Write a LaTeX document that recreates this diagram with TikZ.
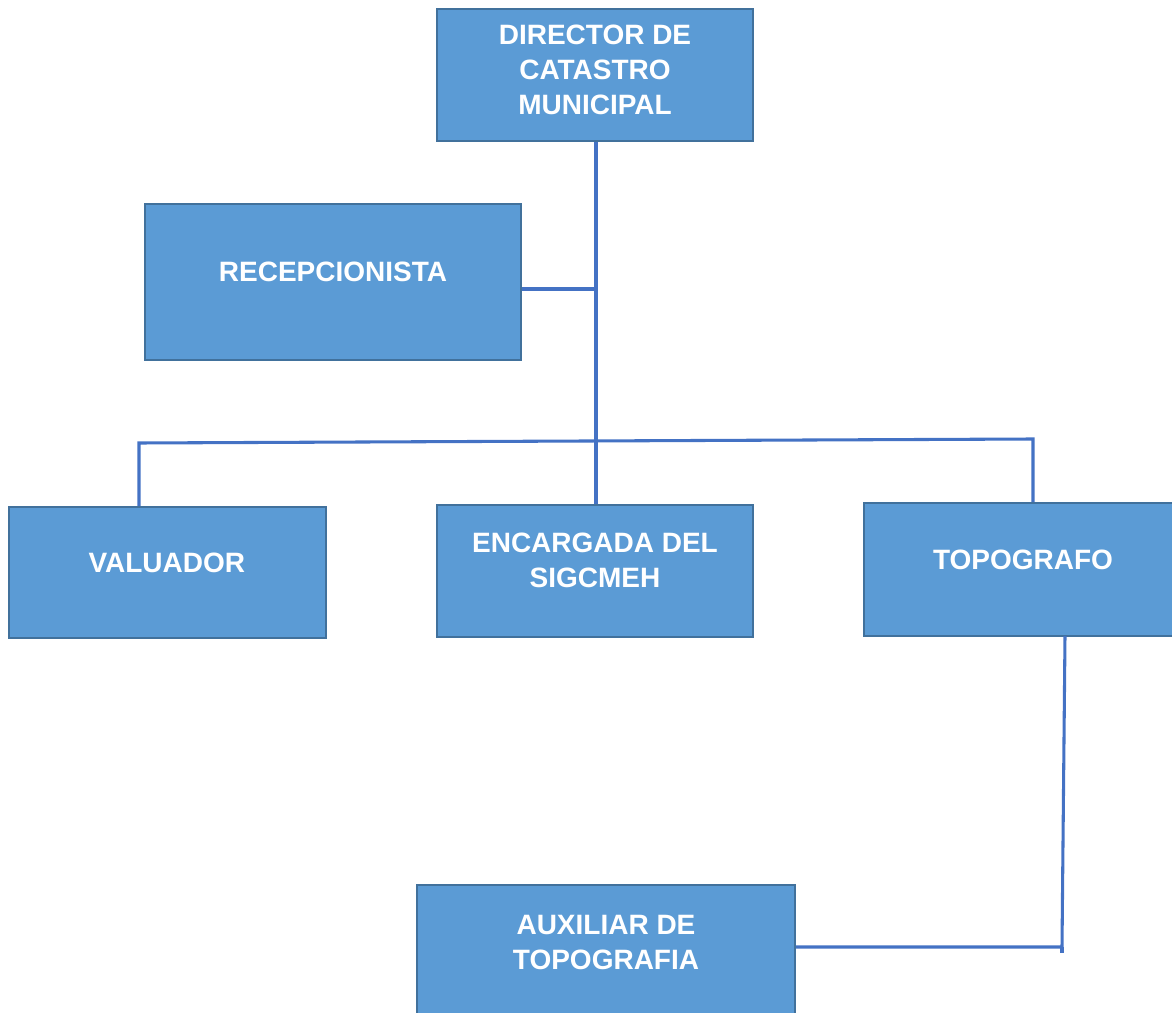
\documentclass[tikz,border=0pt]{standalone}
\usepackage{fontspec}
\setmainfont{Liberation Sans}
\definecolor{boxfill}{HTML}{5B9BD5}
\definecolor{boxline}{HTML}{41719C}
\definecolor{conn}{HTML}{4472C4}
\begin{document}
\begin{tikzpicture}[x=0.75pt,y=-0.75pt,
  orgbox/.style={draw=boxline,line width=1.6pt,fill=boxfill,rectangle,inner sep=0pt},
  txt/.style={text=white,font=\fontsize{21}{26.3}\selectfont\bfseries,align=center},
  connector/.style={draw=conn,line width=2.3pt}]
\useasboundingbox (0,0) rectangle (1172,1013);
\clip (0,0) rectangle (1172,1013);
\node[orgbox,minimum width=316*0.75pt,minimum height=132*0.75pt,
  label={[txt,yshift=3.75pt]center:DIRECTOR DE\\CATASTRO\\MUNICIPAL}] (dir) at (595,75) {};
\node[orgbox,minimum width=376*0.75pt,minimum height=156*0.75pt,
  label={[txt,yshift=7.5pt]center:RECEPCIONISTA}] (rec) at (333,282) {};
\node[orgbox,minimum width=317*0.75pt,minimum height=131*0.75pt,
  label={[txt,yshift=7pt,xshift=-0.5pt]center:VALUADOR}] (val) at (167.5,572.5) {};
\node[orgbox,minimum width=316*0.75pt,minimum height=132*0.75pt,
  label={[txt,yshift=8pt]center:ENCARGADA DEL\\SIGCMEH}] (enc) at (595,571) {};
\node[orgbox,minimum width=310*0.75pt,minimum height=133*0.75pt,
  label={[txt,yshift=7pt,xshift=3pt]center:TOPOGRAFO}] (top) at (1019,569.5) {};
\node[orgbox,minimum width=378*0.75pt,minimum height=132*0.75pt,
  label={[txt,yshift=6.4pt]center:AUXILIAR DE\\TOPOGRAFIA}] (aux) at (606,951) {};
% connectors
\coordinate (j1) at (596,289);
\coordinate (b1) at (139,443);
\coordinate (b2) at (1033,439);
\coordinate (t1) at (1065,636);
\coordinate (t2) at (1062,947);
\draw[connector] (dir.south -| j1) -- (enc.north -| j1);
\draw[connector] (rec.east |- j1) -- (j1);
\draw[connector] (val.north -| b1) -- (b1) -- (b2) -- (top.north -| b2);
\draw[connector] (t1) -- (t2) -- (aux.east |- t2);
\draw[connector] (t2) -- ++(0,6);
\end{tikzpicture}
\end{document}
